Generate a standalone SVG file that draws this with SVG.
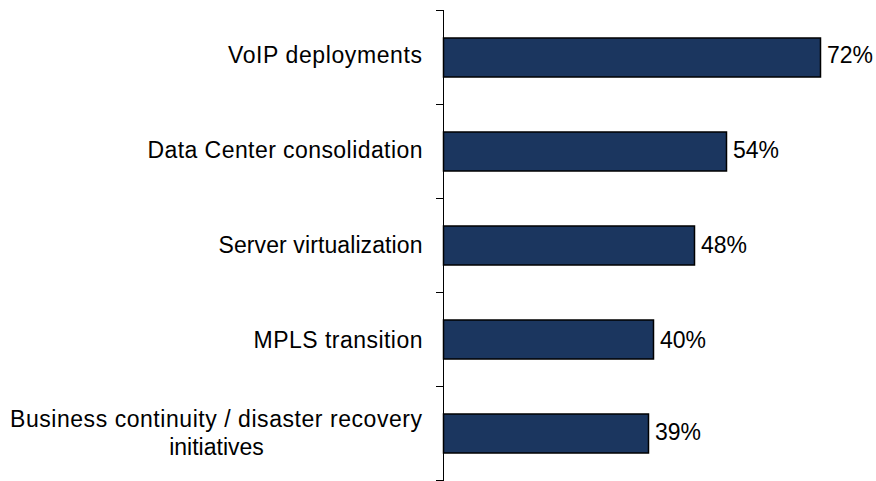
<svg xmlns="http://www.w3.org/2000/svg" width="876" height="481" viewBox="0 0 876 481">
<style>
.bar{fill:#1B365F;stroke:#000;stroke-width:1.5}
.ax{stroke:#000;stroke-width:1;fill:none}
text{font-family:"Liberation Sans",Arial,sans-serif;font-size:23px;fill:#000}
.cat{text-anchor:end}
.cen{text-anchor:middle}
</style>
<rect width="876" height="481" fill="#fff"/>
<g id="axis" class="ax">
<path d="M443.5 10V481M436 10.5H443.5M436 104.5H443.5M436 198.5H443.5M436 292.5H443.5M436 386.5H443.5M436 480.5H443.5"/>
</g>
<g id="bar-voip"><rect class="bar" x="443.5" y="38" width="377" height="39"/><text class="cat" x="422" y="62.5" textLength="194" lengthAdjust="spacing">VoIP deployments</text><text x="827" y="62.5">72%</text></g>
<g id="bar-dc"><rect class="bar" x="443.5" y="132" width="283" height="39"/><text class="cat" x="422.5" y="157.5" textLength="275" lengthAdjust="spacing">Data Center consolidation</text><text x="733" y="157.5">54%</text></g>
<g id="bar-sv"><rect class="bar" x="443.5" y="226" width="251" height="39"/><text class="cat" x="422.5" y="252.5" textLength="204" lengthAdjust="spacing">Server virtualization</text><text x="701" y="252.5">48%</text></g>
<g id="bar-mpls"><rect class="bar" x="443.5" y="320" width="210" height="39"/><text class="cat" x="422.5" y="347.5" textLength="169" lengthAdjust="spacing">MPLS transition</text><text x="660" y="347.5">40%</text></g>
<g id="bar-bc"><rect class="bar" x="443.5" y="414" width="205" height="39"/><text class="cen" x="216" y="427" textLength="412" lengthAdjust="spacing">Business continuity / disaster recovery</text><text class="cen" x="216.5" y="455">initiatives</text><text x="655" y="440">39%</text></g>
<g id="connectors"/>
</svg>
